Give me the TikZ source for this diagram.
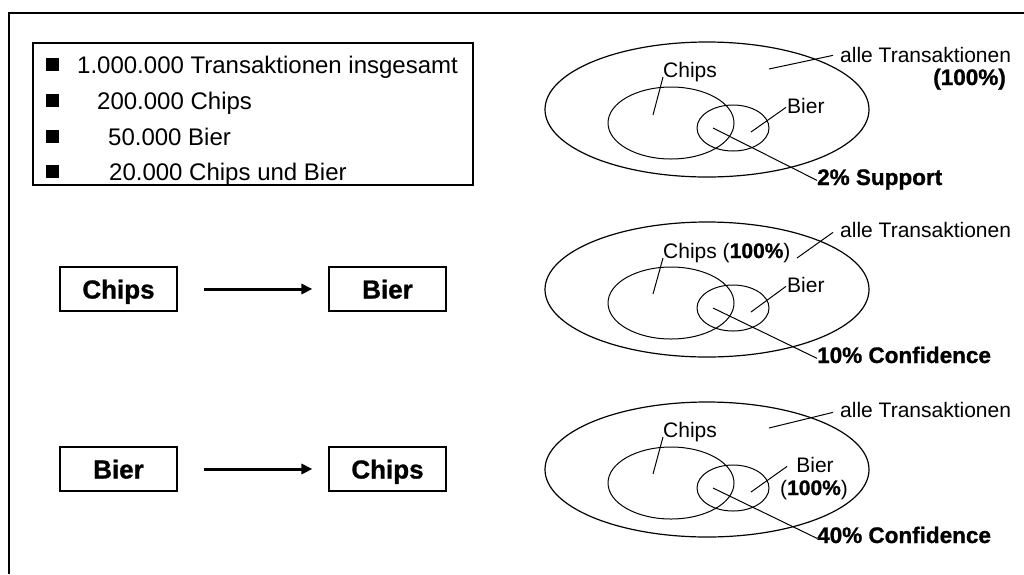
\documentclass[tikz,border=0pt]{standalone}
\usepackage{fontspec}
\setmainfont{Liberation Sans}
\newfontfamily\heavyfont[FakeBold=1]{Liberation Sans Bold}
\usetikzlibrary{arrows.meta}

% Venn figure: all transactions, Chips and Bier sets
\newcommand{\venncircles}{%
  \draw[line width=1.2pt] (707,109.5) ellipse [x radius=162, y radius=67.5];
  \draw[line width=1pt] (671,123) ellipse [x radius=63, y radius=36];
  \draw[line width=1pt] (733,128) ellipse [x radius=36, y radius=23];
}

\begin{document}
\begin{tikzpicture}[x=1pt,y=-1pt,
  txt/.style={inner sep=0pt, anchor=base west, font=\fontsize{21}{24}\selectfont},
  boldtxt/.style={inner sep=0pt, anchor=base west, font=\fontsize{22.5}{26}\heavyfont},
  legendtxt/.style={inner sep=0pt, anchor=base west, font=\fontsize{24}{28}\selectfont},
  rulebox/.style={draw, line width=1.1pt, minimum width=117pt, minimum height=44pt,
    inner sep=0pt, text height=19pt, text depth=0pt, font=\fontsize{26}{30}\heavyfont},
  implies/.style={line width=3pt, -{Triangle[length=11pt,width=10pt]},
    shorten <=26pt, shorten >=16pt},
  leader/.style={line width=1pt}]

\useasboundingbox (0,0) rectangle (1024,574);
\fill[white] (0,0) rectangle (1024,574);

% outer frame
\draw[line width=2pt] (9,574) -- (9,13) -- (1024,13);

% legend
\draw[line width=1.1pt] (33,43) rectangle (473,185);
\foreach \yy in {57.5,93.5,129.5,164.5}
  \fill (46,\yy) rectangle ++(13,13);
\node[legendtxt] (l1) at (77,73) {1.000.000 Transaktionen insgesamt};
\node[legendtxt] (l2) at (97,109) {200.000 Chips};
\node[legendtxt] (l3) at (108,145) {50.000 Bier};
\node[legendtxt] (l4) at (109,180) {20.000 Chips und Bier};

% association rules
\node[rulebox] (r1a) at (118.5,289) {Chips};
\node[rulebox] (r1b) at (387.5,289) {Bier};
\draw[implies] (r1a) -- (r1b);
\node[rulebox] (r2a) at (118.5,469) {Bier};
\node[rulebox] (r2b) at (387.5,469) {Chips};
\draw[implies] (r2a) -- (r2b);

% support
\begin{scope}
  \venncircles
  \coordinate (sChipsIn) at (653,115);
  \coordinate (sBierIn) at (751,132);
  \coordinate (sAllIn) at (769,69);
  \coordinate (sBothIn) at (713,128);
  \node[txt] (sChips) at (663,77) {Chips};
  \node[txt] (sBier) at (787,113) {Bier};
  \node[txt] (sAll) at (840,62) {alle Transaktionen};
  \node[boldtxt, anchor=base east] (sAllPct) at (1006,85) {(100\%)};
  \node[boldtxt] (sSup) at (817,185) {2\% Support};
  \draw[leader] (sChipsIn) -- (sChips.base west);
  \draw[leader] (sBierIn) -- ([xshift=-1pt,yshift=3pt]sBier.mid west);
  \draw[leader] (sAllIn) -- ([xshift=-7pt,yshift=4pt]sAll.mid west);
  \draw[leader] (sBothIn) -- ([yshift=2pt]sSup.mid west);
\end{scope}

% confidence Chips -> Bier
\begin{scope}[shift={(0,180)}]
  \venncircles
  \coordinate (cChipsIn) at (653,114);
  \coordinate (cBierIn) at (751,132);
  \coordinate (cAllIn) at (797,78);
  \coordinate (cBothIn) at (713,128);
  \node[txt] (cChips) at (663,78) {Chips ({\heavyfont 100\%})};
  \node[txt] (cBier) at (787,112) {Bier};
  \node[txt] (cAll) at (840,57) {alle Transaktionen};
  \node[boldtxt] (cConf) at (817,183) {10\% Confidence};
  \draw[leader] (cChipsIn) -- (cChips.base west);
  \draw[leader] (cBierIn) -- ([xshift=-1pt,yshift=3pt]cBier.mid west);
  \draw[leader] (cAllIn) -- ([xshift=-7pt,yshift=2pt]cAll.mid west);
  \draw[leader] (cBothIn) -- ([yshift=2pt]cConf.mid west);
\end{scope}

% confidence Bier -> Chips
\begin{scope}[shift={(0,360)}]
  \venncircles
  \coordinate (bChipsIn) at (653,114);
  \coordinate (bBierIn) at (751,132);
  \coordinate (bAllIn) at (769,68);
  \coordinate (bBothIn) at (713,128);
  \node[txt] (bChips) at (663,77) {Chips};
  \node[txt, anchor=base] (bBier) at (815,112) {Bier};
  \node[txt, anchor=base] (bBierPct) at (814,135) {({\heavyfont 100\%})};
  \node[txt] (bAll) at (840,57) {alle Transaktionen};
  \node[boldtxt] (bConf) at (817,183) {40\% Confidence};
  \draw[leader] (bChipsIn) -- (bChips.base west);
  \draw[leader] (bBierIn) -- ([xshift=-9pt,yshift=3pt]bBier.mid west);
  \draw[leader] (bAllIn) -- ([xshift=-7pt,yshift=2pt]bAll.mid west);
  \draw[leader] (bBothIn) -- ([yshift=2pt]bConf.mid west);
\end{scope}

\end{tikzpicture}
\end{document}
